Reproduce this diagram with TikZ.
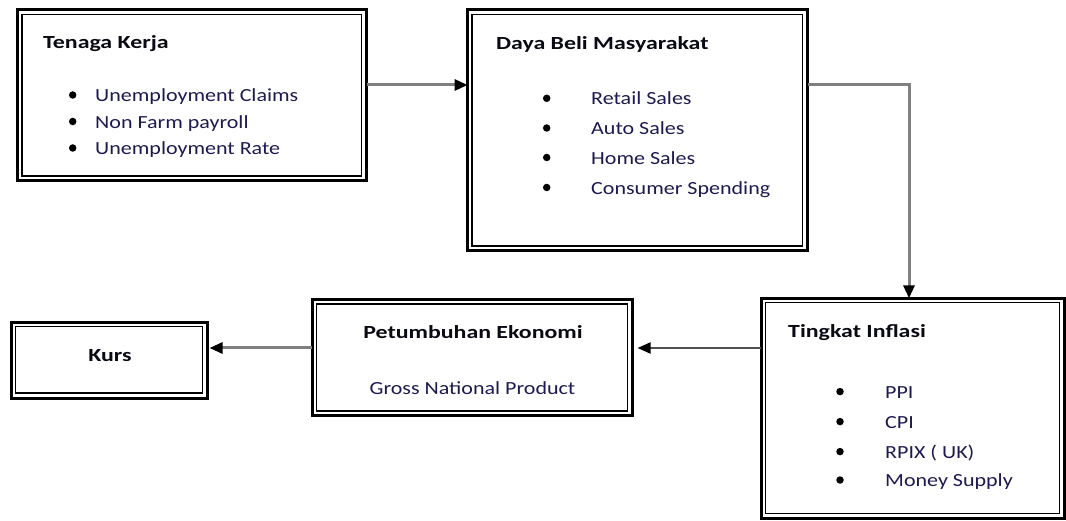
\documentclass[tikz,border=0pt]{standalone}
\usepackage{fontspec}
\setmainfont{Carlito}[FakeStretch=1.19]
\newfontfamily\titlefont{Carlito}[FakeStretch=1.29]
\usetikzlibrary{arrows.meta}
\definecolor{itemc}{RGB}{30,25,80}
\definecolor{linec}{RGB}{128,128,128}
\definecolor{darkline}{RGB}{80,80,80}
\definecolor{titlec}{RGB}{10,10,20}
\newcommand\innerframe[1]{\draw[line width=1.3pt] ([shift={(4.5,4.5)}]#1.north west) rectangle ([shift={(-5,-5)}]#1.south east);}
\begin{document}
\begin{tikzpicture}[x=1pt,y=-1pt,
  box/.style={draw=black, line width=3pt, inner sep=0pt, outer sep=0pt},
  ttl/.style={font=\titlefont\bfseries\fontsize{18.5}{21}\selectfont, text=titlec, inner sep=0pt},
  itm/.style={font=\fontsize{18.5}{21}\selectfont, text=itemc, inner sep=0pt, anchor=base west},
  bul/.style={circle, fill=black, inner sep=0pt, minimum size=7.5pt},
  conn/.style={draw=linec, line width=3pt, -{Triangle[length=13pt,width=11pt,black]}},
  conndark/.style={draw=darkline, line width=2pt, -{Triangle[length=13pt,width=11pt,black]}},
]
\useasboundingbox (0,0) rectangle (1066,521);
% boxes
\node[box, minimum width=349pt, minimum height=171pt] (tk) at (192.1,95.5) {};
\innerframe{tk}
\node[box, minimum width=340pt, minimum height=241pt] (db) at (637.6,130.4) {};
\innerframe{db}
\node[box, minimum width=303pt, minimum height=220pt] (ti) at (912.7,408.3) {};
\innerframe{ti}
\node[box, minimum width=320.5pt, minimum height=116.3pt] (pe) at (472.3,357.7) {};
\innerframe{pe}
\node[box, minimum width=196.5pt, minimum height=75.7pt] (ku) at (109.3,360.2) {};
\innerframe{ku}
% Tenaga Kerja
\node[ttl, anchor=base west] (tkT) at (43,49) {Tenaga Kerja};
\node[bul] (tkb1) at (72.7,95) {};
\node[bul] (tkb2) at (72.7,121.5) {};
\node[bul] (tkb3) at (72.7,148) {};
\node[itm] (tk1) at (95,101.7) {Unemployment Claims};
\node[itm] (tk2) at (95,128.2) {Non Farm payroll};
\node[itm] (tk3) at (95,154.7) {Unemployment Rate};
% Daya Beli
\node[ttl, anchor=base west] (dbT) at (496,50) {Daya Beli Masyarakat};
\node[bul] (dbb1) at (546.7,98.3) {};
\node[bul] (dbb2) at (546.7,128) {};
\node[bul] (dbb3) at (546.7,157.5) {};
\node[bul] (dbb4) at (546.7,187.5) {};
\node[itm] (db1) at (591,105) {Retail Sales};
\node[itm] (db2) at (591,135) {Auto Sales};
\node[itm] (db3) at (591,164.5) {Home Sales};
\node[itm] (db4) at (591,194.3) {Consumer Spending};
% Tingkat Inflasi
\node[ttl, anchor=base west] (tiT) at (788,337.3) {Tingkat Inflasi};
\node[bul] (tib1) at (840,391.6) {};
\node[bul] (tib2) at (840,421.6) {};
\node[bul] (tib3) at (840,451.6) {};
\node[bul] (tib4) at (840,480) {};
\node[itm] (ti1) at (885,398.3) {PPI};
\node[itm] (ti2) at (885,428.3) {CPI};
\node[itm] (ti3) at (885,458.3) {RPIX ( UK)};
\node[itm] (ti4) at (885,486.7) {Money Supply};
% Petumbuhan
\node[ttl, anchor=base] (peT) at (473,338.3) {Petumbuhan Ekonomi};
\node[itm, anchor=base] (pe1) at (472.5,395) {Gross National Product};
% Kurs
\node[ttl, anchor=base] (kuT) at (110,361.7) {Kurs};
% connectors
\coordinate (ya) at (0,85);
\coordinate (yb) at (0,348);
\coordinate (xc) at (909,0);
\draw[conn] (tk.east |- ya) -- (db.west |- ya);
\draw[conn] (db.east |- ya) -| (ti.north -| xc);
\draw[conndark, shorten >=5pt] (ti.west |- yb) -- (pe.east |- yb);
\draw[conn, shorten >=2pt] (pe.west |- yb) -- (ku.east |- yb);
\end{tikzpicture}
\end{document}
